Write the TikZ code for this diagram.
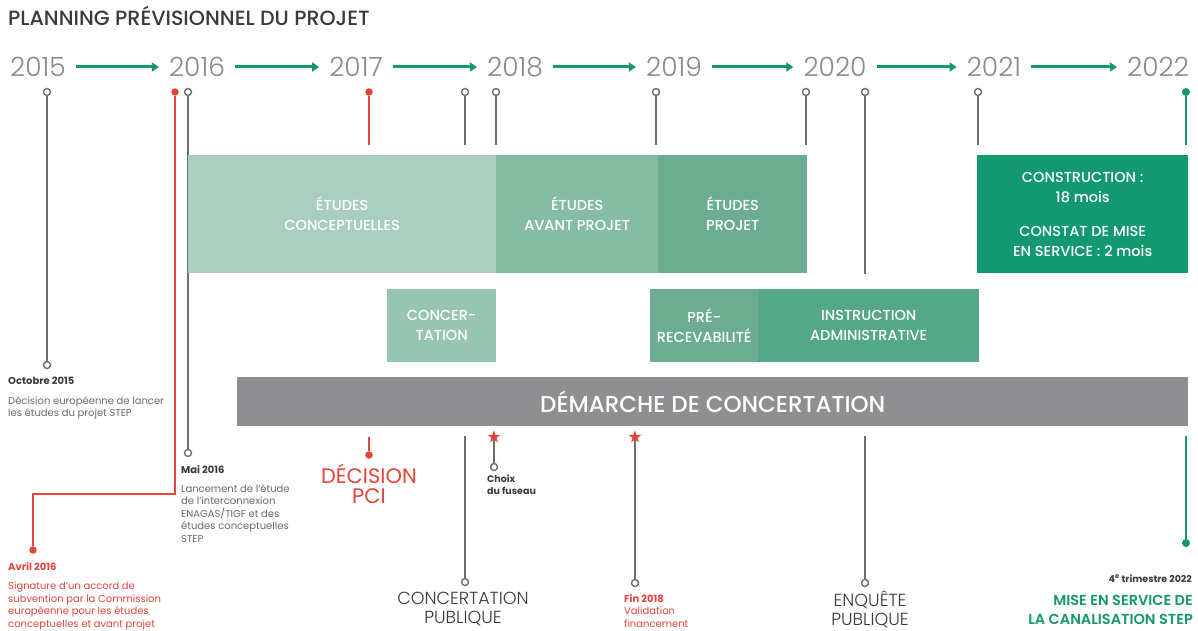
\documentclass[tikz,border=0pt]{standalone}
\usepackage{fontspec}
\setmainfont{Poppins}
\newfontfamily\lightfont{Poppins Light}
\newfontfamily\medfont{Poppins Medium}
\newfontfamily\semifont{Poppins SemiBold}
\usetikzlibrary{shapes.geometric,arrows.meta}
\definecolor{green1}{HTML}{15986F}
\definecolor{red1}{HTML}{E2453D}
\definecolor{linegray}{HTML}{6E6E6E}
\definecolor{yeargray}{HTML}{8A8A8A}
\definecolor{headgray}{HTML}{3A3A3A}
\definecolor{bodygray}{HTML}{6A6A6A}
\definecolor{bA}{HTML}{A9CEBF}
\definecolor{bB}{HTML}{86BBA4}
\definecolor{bC}{HTML}{6CAD92}
\definecolor{bD}{HTML}{98C5B2}
\definecolor{bE}{HTML}{55A887}
\definecolor{bF}{HTML}{13996F}
\definecolor{barg}{HTML}{8F8F91}
\tikzset{
  year/.style={font=\lightfont\fontsize{26.5}{26}\selectfont, text=yeargray, inner xsep=10pt, inner ysep=0pt},
  garrow/.style={draw=green1, line width=3pt, -{Triangle[length=7pt,width=9pt]}},
  pinline/.style={draw=linegray, line width=1.8pt},
  redline/.style={draw=red1, line width=1.8pt},
  greenline/.style={draw=green1, line width=1.8pt},
  hollow/.style={circle, draw=linegray, fill=white, line width=1.4pt, minimum size=7pt, inner sep=0pt},
  reddot/.style={circle, fill=red1, minimum size=7.5pt, inner sep=0pt},
  greendot/.style={circle, fill=green1, minimum size=8pt, inner sep=0pt},
  redstar/.style={star, star points=5, star point ratio=2.4, fill=red1, minimum size=13pt, inner sep=0pt},
  box/.style={anchor=north west, inner sep=0pt, text=white, align=center, font=\medfont\fontsize{14.5}{20}\selectfont},
  head/.style={anchor=north west, inner sep=0pt, align=left, font=\bfseries\fontsize{10}{12.5}\selectfont, text=headgray},
  body/.style={anchor=north west, inner sep=0pt, align=left, font=\fontsize{10}{12.5}\selectfont, text=bodygray},
  big/.style={inner sep=0pt, align=center, font=\lightfont\fontsize{17.5}{19}\selectfont, text=headgray},
}
\begin{document}
\begin{tikzpicture}[x=1pt,y=-1pt]
\useasboundingbox[fill=white] (0,0) rectangle (1198,631);
% title
\node[anchor=west, inner sep=0pt, font=\medfont\fontsize{20.6}{20}\selectfont, text=headgray] (title) at (8,16) {PLANNING PRÉVISIONNEL DU PROJET};
% years
\node[year] (y15) at (38,67) {2015};
\node[year] (y16) at (197,67) {2016};
\node[year] (y17) at (356,67) {2017};
\node[year] (y18) at (515,67) {2018};
\node[year] (y19) at (674,67) {2019};
\node[year] (y20) at (835,67) {2020};
\node[year] (y21) at (994,67) {2021};
\node[year] (y22) at (1158,67) {2022};
\draw[garrow] (y15.east) -- (y16.west);
\draw[garrow] (y16.east) -- (y17.west);
\draw[garrow] (y17.east) -- (y18.west);
\draw[garrow] (y18.east) -- (y19.west);
\draw[garrow] (y19.east) -- (y20.west);
\draw[garrow] (y20.east) -- (y21.west);
\draw[garrow] (y21.east) -- (y22.west);
% pins: Octobre 2015
\node[hollow] (oct1) at (47,92) {};
\node[hollow] (oct2) at (47,365) {};
\draw[pinline] (oct1) -- (oct2);
% Avril 2016 (red)
\node[reddot] (avr1) at (175,92) {};
\coordinate (avrA) at (175,494);
\coordinate (avrB) at (33,494);
\node[reddot] (avr2) at (33,550) {};
\draw[redline] (avr1) -- (avrA) -- (avrB) -- (avr2);
% Mai 2016
\node[hollow] (mai1) at (188,92) {};
\node[hollow] (mai2) at (188,453) {};
\draw[pinline] (mai1) -- (mai2);
% 2017 red
\node[reddot] (r17) at (369,92) {};
\coordinate (r17e) at (369,145);
\draw[redline] (r17) -- (r17e);
\coordinate (pci1) at (369,437);
\node[reddot] (pci2) at (369,455) {};
\draw[redline] (pci1) -- (pci2);
% concertation publique
\node[hollow] (cp1) at (465,92) {};
\coordinate (cp1e) at (465,145);
\draw[pinline] (cp1) -- (cp1e);
\coordinate (cp2s) at (465,436);
\node[hollow] (cp2) at (465,582) {};
\draw[pinline] (cp2s) -- (cp2);
% 2018
\node[hollow] (f1) at (496,92) {};
\coordinate (f1e) at (496,145);
\draw[pinline] (f1) -- (f1e);
\node[hollow] (fus) at (494,467) {};
\node[redstar] (star1) at (494,437) {};
\draw[pinline] (star1) -- (fus);
% 2019
\node[hollow] (p19) at (656,92) {};
\coordinate (p19e) at (656,145);
\draw[pinline] (p19) -- (p19e);
\node[hollow] (fin) at (635,583) {};
\node[redstar] (star2) at (635,437) {};
\draw[pinline] (star2) -- (fin);
% 2020
\node[hollow] (p20a) at (806,92) {};
\coordinate (p20ae) at (806,145);
\draw[pinline] (p20a) -- (p20ae);
\node[hollow] (p20b) at (865,92) {};
\coordinate (p20be) at (865,274);
\draw[pinline] (p20b) -- (p20be);
\coordinate (enq1) at (865,436);
\node[hollow] (enq2) at (865,583) {};
\draw[pinline] (enq1) -- (enq2);
% 2021
\node[hollow] (p21) at (978,92) {};
\coordinate (p21e) at (978,145);
\draw[pinline] (p21) -- (p21e);
% 2022 green
\node[greendot] (g1) at (1186,92) {};
\coordinate (g1e) at (1186,145);
\draw[greenline] (g1) -- (g1e);
\coordinate (g2s) at (1186,436);
\node[greendot] (g2) at (1186,543) {};
\draw[greenline] (g2s) -- (g2);
% boxes
\node[box, fill=bA, minimum width=308pt, minimum height=118pt] (eC) at (188,155) {ÉTUDES\\CONCEPTUELLES};
\node[box, fill=bB, minimum width=162pt, minimum height=118pt] (eAP) at (496,155) {ÉTUDES\\AVANT PROJET};
\node[box, fill=bC, minimum width=149pt, minimum height=118pt] (eP) at (658,155) {ÉTUDES\\PROJET};
\node[box, fill=bF, minimum width=211pt, minimum height=118pt] (cons) at (977,155) {CONSTRUCTION :\\18 mois\\[14pt]CONSTAT DE MISE\\EN SERVICE : 2 mois};
\node[box, fill=bD, minimum width=109pt, minimum height=73pt] (conc) at (387,289) {CONCER-\\TATION};
\node[box, fill=bC, minimum width=108pt, minimum height=73pt] (pre) at (650,289) {PRÉ-\\RECEVABILITÉ};
\node[box, fill=bE, minimum width=221pt, minimum height=73pt] (instr) at (758,289) {INSTRUCTION\\ADMINISTRATIVE};
\node[box, fill=barg, minimum width=951pt, minimum height=49pt, font=\medfont\fontsize{23}{23}\selectfont] (bar) at (237,377) {DÉMARCHE DE CONCERTATION};
% annotations
\node[head] (octH) at (8,377) {Octobre 2015};
\node[body] (octB) at (8,396) {Décision européenne de lancer\\les études du projet STEP};
\node[head, text=red1] (avrH) at (8,562) {Avril 2016};
\node[body, text=red1] (avrT) at (8,582) {Signature d’un accord de\\subvention par la Commission\\européenne pour les études\\conceptuelles et avant projet};
\node[head] (maiH) at (181,465) {Mai 2016};
\node[body] (maiB) at (181,484) {Lancement de l’étude\\de l’interconnexion\\ENAGAS/TIGF et des\\études conceptuelles\\STEP};
\node[inner sep=0pt, align=center, font=\fontsize{21}{20}\selectfont, text=red1] (pci) at (369,484) {DÉCISION\\PCI};
\node[head, font=\bfseries\fontsize{9.5}{12}\selectfont] (choix) at (487,475) {Choix\\du fuseau};
\node[big] (cpT) at (463,609) {CONCERTATION\\PUBLIQUE};
\node[head, text=red1] (finH) at (624,594) {Fin 2018};
\node[body, text=red1] (finB) at (624,607) {Validation\\financement};
\node[big] (enqT) at (870,609) {ENQUÊTE\\PUBLIQUE};
\node[anchor=east, inner sep=0pt, font=\bfseries\fontsize{9.5}{10}\selectfont, text=headgray] (trim) at (1192,579) {4\textsuperscript{e} trimestre 2022};
\node[anchor=north east, inner sep=0pt, align=right, font=\semifont\fontsize{14.5}{19}\selectfont, text=green1] (mes) at (1193,595) {MISE EN SERVICE DE\\LA CANALISATION STEP};
\end{tikzpicture}
\end{document}
